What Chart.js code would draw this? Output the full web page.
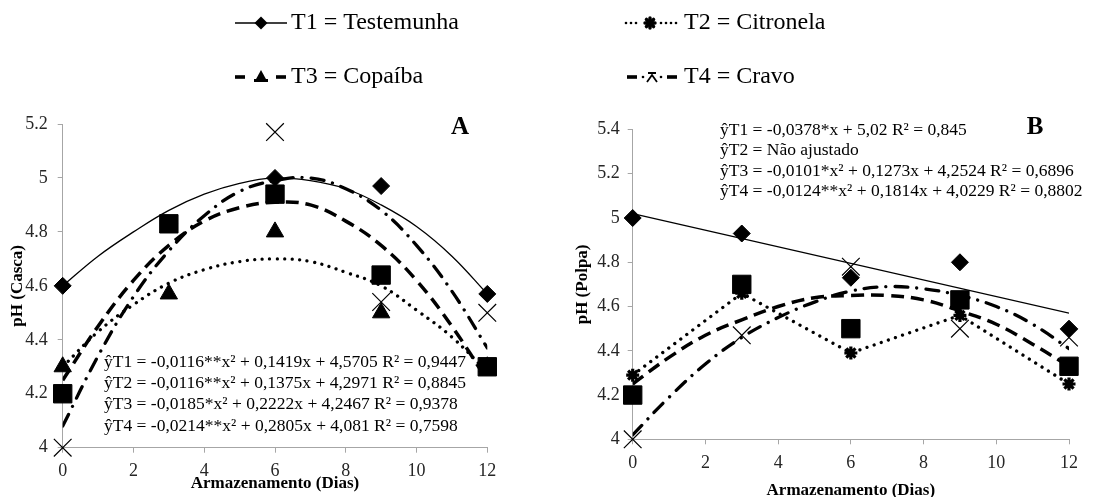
<!DOCTYPE html>
<html>
<head>
<meta charset="utf-8">
<script src="https://cdn.jsdelivr.net/npm/chart.js@4.4.0/dist/chart.umd.min.js"></script>
<style>
  body { margin: 0; background: #fff; width: 1118px; height: 497px; overflow: hidden; position: relative; font-family: "Liberation Serif", serif; }
  canvas { position: absolute; top: 0; }
  #chartA { left: 0; }
  #chartB { left: 559px; }
  #legend { left: 0; }
  .warm { position: absolute; left: -999px; top: 0; }
</style>
</head>
<body>
<span class="warm">a<b>b</b></span>
<canvas id="chartA" width="559" height="497"></canvas>
<canvas id="chartB" width="559" height="497"></canvas>
<canvas id="legend" width="1118" height="100"></canvas>
<script>
// storage days and axis ticks
const days = [0, 3, 6, 9, 12];
const curveDays = [0, 1, 2, 3, 4, 5, 6, 7, 8, 9, 10, 11, 12];
const tickDays = [0, 2, 4, 6, 8, 10, 12];
const yTicksA = [4, 4.2, 4.4, 4.6, 4.8, 5, 5.2];
const yLabelsA = ["4", "4.2", "4.4", "4.6", "4.8", "5", "5.2"];
const yTicksB = [4, 4.2, 4.4, 4.6, 4.8, 5, 5.2, 5.4];
const yLabelsB = ["4", "4.2", "4.4", "4.6", "4.8", "5", "5.2", "5.4"];

const legendLabels = ["T1 = Testemunha", "T2 = Citronela", "T3 = Copaíba", "T4 = Cravo"];

// A - pH (Casca): observed points
const cascaT1 = [4.6, 4.83, 5.0, 4.97, 4.57];
const cascaT2 = [4.3, 4.57, 4.8, 4.5, 4.3];
const cascaT3 = [4.2, 4.83, 4.94, 4.64, 4.3];
const cascaT4 = [4.0, 4.83, 5.17, 4.54, 4.5];
// A - fitted curves at each day
const cascaFitT1 = [4.6, 4.71, 4.8, 4.88, 4.94, 4.98, 5.0, 4.99, 4.96, 4.9, 4.82, 4.71, 4.57];
const cascaFitT2 = [4.3, 4.43, 4.53, 4.61, 4.66, 4.69, 4.7, 4.69, 4.65, 4.6, 4.51, 4.41, 4.28];
const cascaFitT3 = [4.25, 4.45, 4.62, 4.75, 4.84, 4.89, 4.91, 4.9, 4.84, 4.75, 4.62, 4.45, 4.25];
const cascaFitT4 = [4.08, 4.34, 4.56, 4.73, 4.86, 4.95, 4.99, 5.0, 4.96, 4.88, 4.75, 4.58, 4.37];
const cascaEquations = [
  "ŷT1 = -0,0116**x² + 0,1419x + 4,5705 R² = 0,9447",
  "ŷT2 = -0,0116**x² + 0,1375x + 4,2971 R² = 0,8845",
  "ŷT3 = -0,0185*x² + 0,2222x + 4,2467 R² = 0,9378",
  "ŷT4 = -0,0214**x² + 0,2805x + 4,081 R² = 0,7598"
];

// B - pH (Polpa): observed points
const polpaT1 = [5.0, 4.93, 4.73, 4.8, 4.5];
const polpaT2 = [4.29, 4.66, 4.39, 4.56, 4.25];
const polpaT3 = [4.2, 4.7, 4.5, 4.63, 4.33];
const polpaT4 = [4.0, 4.47, 4.78, 4.5, 4.46];
// B - fitted lines
const polpaLineDays = [0, 12];
const polpaFitT1 = [5.02, 4.57];
const polpaFitT3 = [4.25, 4.37, 4.47, 4.54, 4.6, 4.64, 4.65, 4.65, 4.63, 4.58, 4.52, 4.43, 4.33];
const polpaFitT4 = [4.02, 4.19, 4.34, 4.46, 4.55, 4.62, 4.67, 4.69, 4.68, 4.65, 4.6, 4.52, 4.41];
const polpaEquations = [
  "ŷT1 = -0,0378*x + 5,02 R² = 0,845",
  "ŷT2 = Não ajustado",
  "ŷT3 = -0,0101*x² + 0,1273x + 4,2524 R² = 0,6896",
  "ŷT4 = -0,0124**x² + 0,1814x + 4,0229 R² = 0,8802"
];

const FONT = '"Liberation Serif", serif';
const AXIS_GREY = "#a6a6a6";

function toPoints(xs, ys) {
  return ys.map((y, i) => ({ x: xs[i], y: y }));
}

function markers(values, style, radius, filled, width) {
  return {
    data: toPoints(days, values),
    showLine: false,
    pointStyle: style,
    pointRadius: radius,
    pointHoverRadius: radius,
    pointBackgroundColor: filled ? "#000" : "rgba(0,0,0,0)",
    pointBorderColor: "#000",
    pointBorderWidth: width,
    clip: false
  };
}

function curve(xs, values, dash, width, cap, tension) {
  return {
    data: toPoints(xs, values),
    showLine: true,
    pointRadius: 0,
    pointHoverRadius: 0,
    borderColor: "#000",
    borderWidth: width,
    borderDash: dash,
    borderCapStyle: cap,
    tension: tension,
    fill: false
  };
}

// axis titles, panel letter and equations
const panelText = {
  id: "panelText",
  afterDraw(chart, args, o) {
    const ctx = chart.ctx;
    const a = chart.chartArea;
    ctx.save();
    ctx.fillStyle = "#000";
    ctx.textBaseline = "middle";

    ctx.font = "bold 17px " + FONT;
    ctx.textAlign = "center";
    ctx.save();
    ctx.translate(o.yTitleX, (a.top + a.bottom) / 2);
    ctx.rotate(-Math.PI / 2);
    ctx.fillText(o.yTitle, 0, 0);
    ctx.restore();
    ctx.fillText("Armazenamento (Dias)", (a.left + a.right) / 2, o.xTitleY);

    ctx.font = "bold 25px " + FONT;
    ctx.fillText(o.letter, o.letterX, o.letterY);

    ctx.font = "17.5px " + FONT;
    ctx.textAlign = "left";
    o.lines.forEach((t, i) => ctx.fillText(t, o.eqX, o.eqY + i * o.eqStep));
    ctx.restore();
  }
};

function buildOptions(p) {
  const gridStyle = { drawOnChartArea: false, tickLength: 5, color: AXIS_GREY, lineWidth: 1 };
  return {
    responsive: false,
    animation: false,
    devicePixelRatio: 1,
    layout: { padding: { top: p.top, right: p.right, left: 0, bottom: 0 } },
    plugins: {
      legend: { display: false },
      tooltip: { enabled: false },
      panelText: p.text
    },
    scales: {
      x: {
        type: "linear",
        min: 0,
        max: 12,
        afterBuildTicks: (s) => { s.ticks = tickDays.map((v) => ({ value: v })); },
        afterFit: (s) => { s.height = p.xHeight; },
        grid: gridStyle,
        border: { color: AXIS_GREY },
        ticks: { font: { family: FONT, size: 18 }, color: "#262626", padding: p.xPad, maxRotation: 0, autoSkip: false }
      },
      y: {
        type: "linear",
        min: p.yTicks[0],
        max: p.yTicks[p.yTicks.length - 1],
        afterBuildTicks: (s) => { s.ticks = p.yTicks.map((v) => ({ value: v })); },
        afterFit: (s) => { s.width = p.yWidth; },
        grid: gridStyle,
        border: { color: AXIS_GREY },
        ticks: { font: { family: FONT, size: 18 }, color: "#262626", padding: p.yPad, callback: (v, i) => p.yLabels[i] }
      }
    }
  };
}

const DOTTED = [0.01, 7.5];
const DASHED = [13, 7];
const DASHDOT = [13, 9, 0.01, 9];

function drawCharts() {
  // Chart A
  new Chart(document.getElementById("chartA"), {
    type: "scatter",
    data: {
      datasets: [
        markers(cascaT1, "rectRot", 8.5, true, 1),
        markers(cascaT3, "rect", 13, true, 1),
        markers(cascaT2, "triangle", 10, true, 1),
        markers(cascaT4, "crossRot", 12.5, false, 1.2),
        curve(curveDays, cascaFitT1, [], 1.3, "butt", 0.4),
        curve(curveDays, cascaFitT2, DOTTED, 3.3, "round", 0.4),
        curve(curveDays, cascaFitT3, DASHED, 3.5, "butt", 0.4),
        curve(curveDays, cascaFitT4, DASHDOT, 3.3, "round", 0.4)
      ]
    },
    options: buildOptions({
      top: 124, right: 71.7, xHeight: 49.3, yWidth: 62.7, xPad: 8, yPad: 10,
      yTicks: yTicksA, yLabels: yLabelsA,
      text: {
        yTitle: "pH (Casca)", yTitleX: 18, xTitleY: 484,
        letter: "A", letterX: 460, letterY: 128,
        lines: cascaEquations, eqX: 104, eqY: 362, eqStep: 21.4
      }
    }),
    plugins: [panelText]
  });

  // Chart B
  new Chart(document.getElementById("chartB"), {
    type: "scatter",
    data: {
      datasets: [
        markers(polpaT1, "rectRot", 8.5, true, 1),
        markers(polpaT3, "rect", 13, true, 1),
        markers(polpaT2, "star", 6.5, false, 3.2),
        markers(polpaT4, "crossRot", 12.5, false, 1.2),
        curve(polpaLineDays, polpaFitT1, [], 1.3, "butt", 0),
        curve(days, polpaT2, DOTTED, 3.3, "round", 0),
        curve(curveDays, polpaFitT3, DASHED, 3.5, "butt", 0.4),
        curve(curveDays, polpaFitT4, DASHDOT, 3.3, "round", 0.4)
      ]
    },
    options: buildOptions({
      top: 129.5, right: 49, xHeight: 57.7, yWidth: 73.7, xPad: 8, yPad: 8,
      yTicks: yTicksB, yLabels: yLabelsB,
      text: {
        yTitle: "pH (Polpa)", yTitleX: 24, xTitleY: 491,
        letter: "B", letterX: 476, letterY: 128,
        lines: polpaEquations, eqX: 161, eqY: 130, eqStep: 20.5
      }
    }),
    plugins: [panelText]
  });
}

// shared legend on top
function drawLegend() {
  const g = document.getElementById("legend").getContext("2d");
  g.fillStyle = "#000";
  g.strokeStyle = "#000";
  const r1 = 23, r2 = 77;

  // T1: solid + diamond
  g.lineWidth = 1.6;
  g.beginPath(); g.moveTo(235, r1); g.lineTo(287, r1); g.stroke();
  g.beginPath(); g.moveTo(261, r1 - 6.5); g.lineTo(267.5, r1); g.lineTo(261, r1 + 6.5); g.lineTo(254.5, r1); g.closePath(); g.fill();

  // T2: dotted + blob
  for (let x = 626; x <= 676; x += 5) {
    if (x > 640 && x < 660) continue;
    g.beginPath(); g.arc(x, r1, 1.3, 0, Math.PI * 2); g.fill();
  }
  g.lineWidth = 3.5;
  g.lineCap = "round";
  for (let k = 0; k < 4; k++) {
    const ang = k * Math.PI / 4;
    g.beginPath();
    g.moveTo(650 - Math.cos(ang) * 5, r1 - Math.sin(ang) * 5);
    g.lineTo(650 + Math.cos(ang) * 5, r1 + Math.sin(ang) * 5);
    g.stroke();
  }

  // T3: dashed + triangle
  g.lineCap = "butt";
  g.fillRect(235, r2 - 1.8, 10, 3.6);
  g.fillRect(276, r2 - 1.8, 10, 3.6);
  g.beginPath(); g.moveTo(261, r2 - 7); g.lineTo(267, r2 + 4); g.lineTo(255, r2 + 4); g.closePath(); g.fill();
  g.fillRect(254, r2 + 2, 14, 3);

  // T4: dash-dot + cross
  g.fillRect(627, r2 - 1.8, 10, 3.6);
  g.fillRect(667, r2 - 1.8, 10, 3.6);
  g.beginPath(); g.arc(643, r2, 1.3, 0, Math.PI * 2); g.fill();
  g.beginPath(); g.arc(661, r2, 1.3, 0, Math.PI * 2); g.fill();
  g.lineWidth = 1.8;
  g.beginPath();
  g.moveTo(647, r2 + 5); g.lineTo(652, r2 - 2); g.lineTo(657, r2 + 5);
  g.moveTo(648, r2 - 4); g.lineTo(656, r2 - 4);
  g.stroke();

  g.font = "24px " + FONT;
  g.textBaseline = "middle";
  g.fillText(legendLabels[0], 291, r1);
  g.fillText(legendLabels[1], 684, r1);
  g.fillText(legendLabels[2], 291, r2);
  g.fillText(legendLabels[3], 684, r2);
}

Promise.all([
  document.fonts.load('18px "Liberation Serif"'),
  document.fonts.load('bold 18px "Liberation Serif"')
]).catch(() => null).then(() => {
  drawCharts();
  drawLegend();
});
</script>
</body>
</html>
